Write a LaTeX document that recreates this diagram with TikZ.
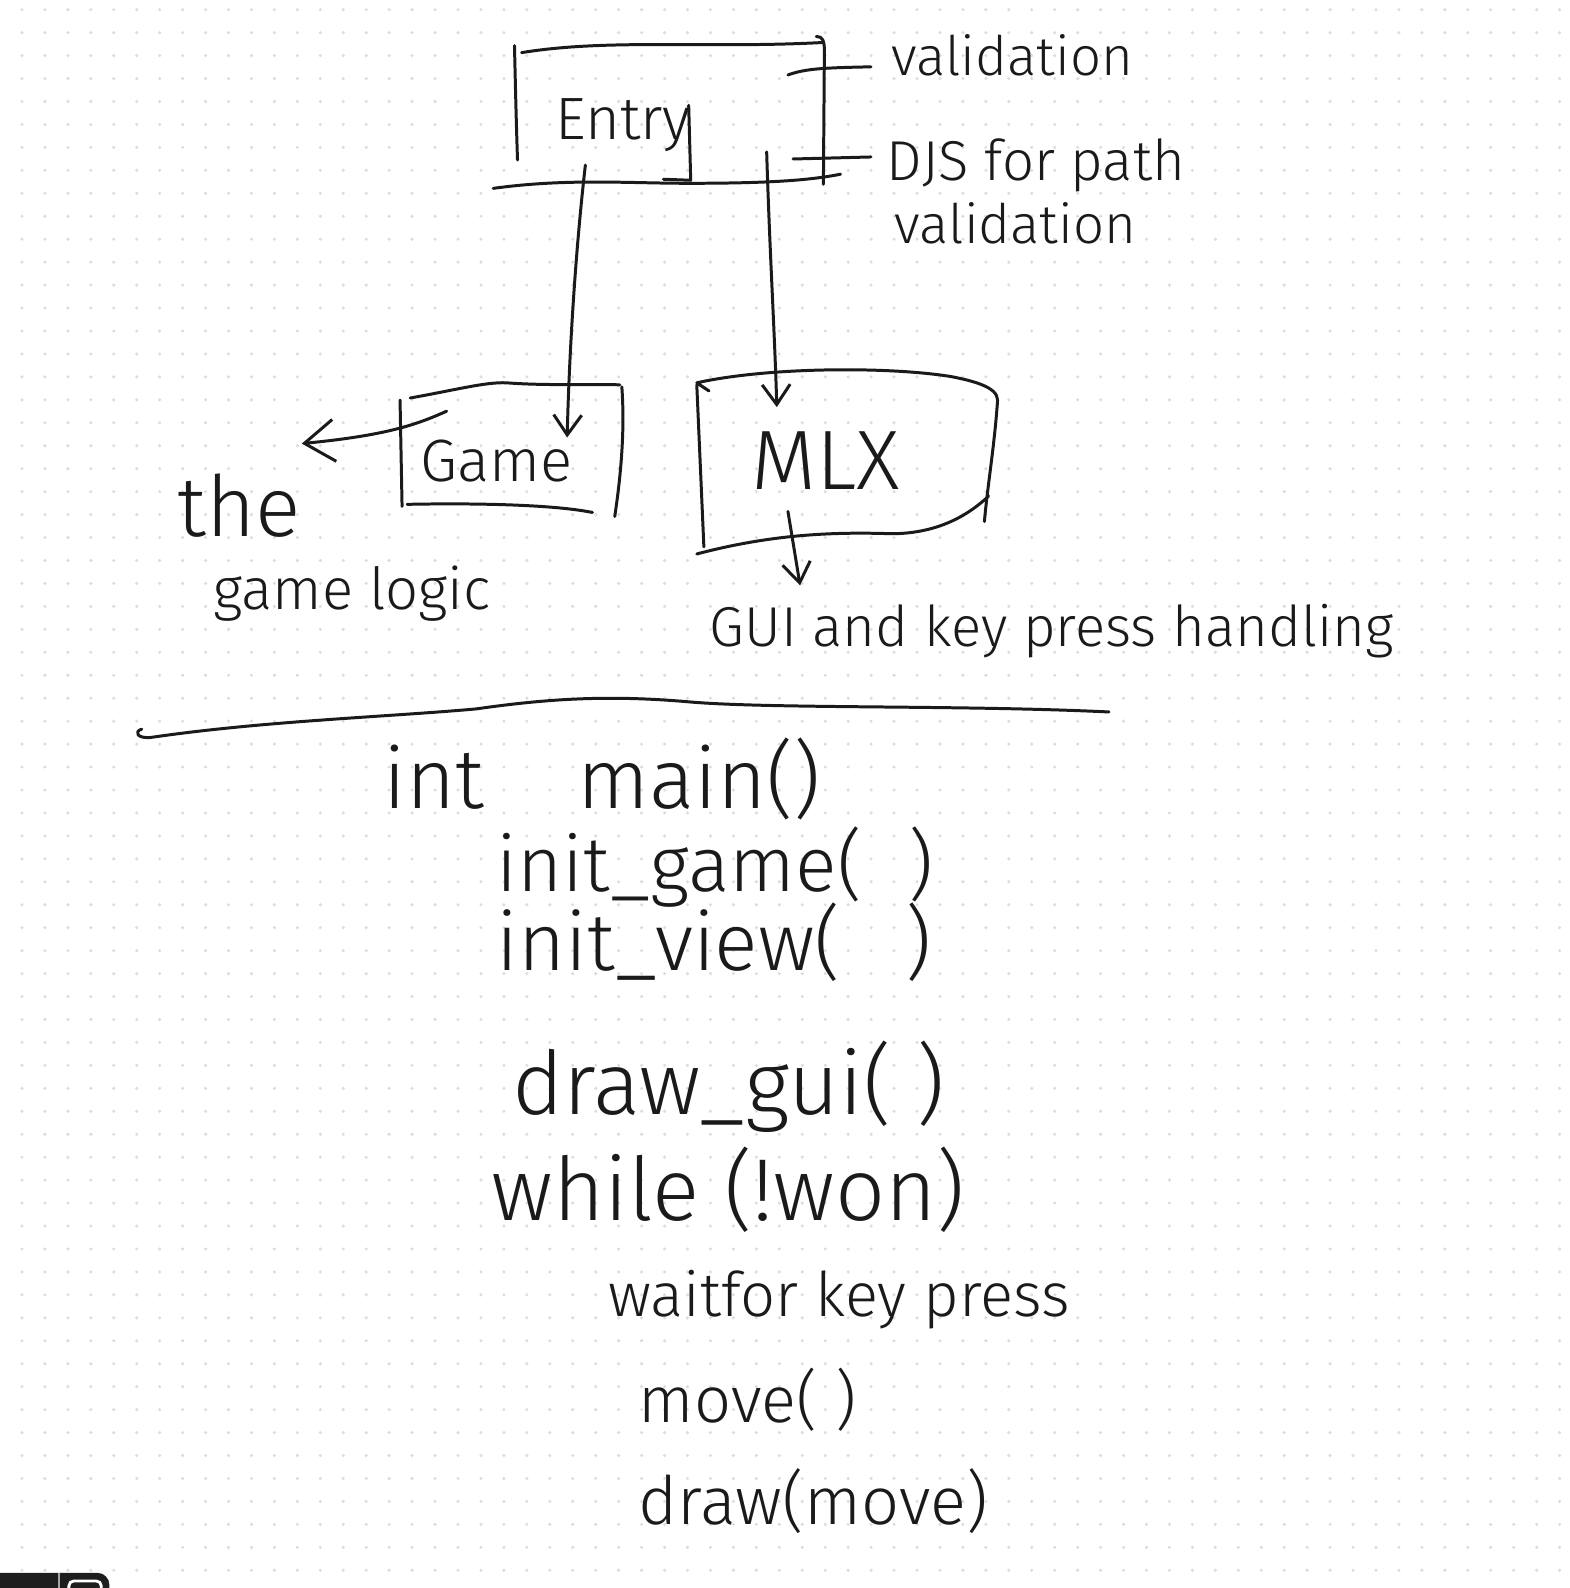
\documentclass[tikz,border=0pt]{standalone}
\usepackage{fontspec}
\setmainfont{Fira Sans Light}
\usetikzlibrary{arrows.meta,positioning}
\definecolor{dotgray}{HTML}{DCDCDC}
\definecolor{ink}{HTML}{1A1A1A}
\definecolor{barblack}{HTML}{1E1E1E}

\begin{document}
\begin{tikzpicture}[
    x=0.10129mm, y=-0.10129mm,
    pen/.style={draw=ink, line width=0.85pt, line cap=round, line join=round},
    arrow/.style={pen, -{Straight Barb[length=2mm, width=2.8mm]}},
    bigarrow/.style={pen, -{Straight Barb[length=3mm, width=4.2mm]}},
    boxtext/.style={text=ink, inner sep=0, font=\fontsize{#1}{#1}\selectfont},
    notetext/.style={text=ink, inner sep=0, anchor=base west, font=\fontsize{#1}{#1}\selectfont},
    codetext/.style={text=ink, inner sep=0, anchor=base west, font=\fontsize{#1}{#1}\selectfont}
]

% Paper and dot grid
\fill[white] (0,0) rectangle (1550,1568);
\useasboundingbox (0,0) rectangle (1550,1568);
\foreach \i in {0,...,67}{
  \foreach \j in {0,...,68}{
    \fill[dotgray] ({21.7+22.66*\i},{9.6+22.66*\j}) circle (0.17mm);
  }
}

% Toolbar corner
\begin{scope}
  \clip (0,0) rectangle (1550,1568);
  \fill[barblack, rounded corners=1.2mm] (-20,1553) rectangle (108,1600);
  \draw[gray!70, line width=0.5pt] (58,1553) -- (58,1568);
  \draw[white, line width=0.8pt, rounded corners=0.5mm] (68,1561) rectangle (100,1580);
\end{scope}

% Entry box
\draw[pen] (508,45) .. controls (509,90) and (510,130) .. (511,158);
\draw[pen] (515,52) .. controls (600,38) and (700,48) .. (812,42);
\draw[pen] (806,36) .. controls (812,36) and (814,40) .. (814,50) -- (813,182);
\draw[pen] (778,74) .. controls (795,68) and (810,67) .. (860,66);
\draw[pen] (783,157) -- (860,155);
\draw[pen] (680,104) -- (682,178) -- (655,177);
\draw[pen] (487,186) .. controls (560,176) and (620,181) .. (680,181) .. controls (760,181) and (800,178) .. (830,172);
\node[boxtext=17] (entry) at (615,124) {Entry};

% Notes on the right
\node[notetext=15.5] (valid) at (880,75) {validation};
\node[notetext=16] (djs) at (875,178) {DJS for path};
\node[notetext=15.5] (pathvalid) at (883,240) {validation};

% Game box
\draw[pen] (405,393) .. controls (450,385) and (480,377) .. (500,378) .. controls (540,381) and (580,379) .. (612,380);
\draw[pen] (614,382) .. controls (616,410) and (616,450) .. (607,510);
\draw[pen] (395,395) -- (397,500);
\draw[pen] (402,498) .. controls (450,497) and (540,497) .. (585,506);
\node[boxtext=17] (game) at (490,455) {Game};

% MLX box
\draw[pen] (700,386) -- (688,378) .. controls (760,362) and (880,362) .. (940,372) .. controls (960,376) and (985,382) .. (985,395) .. controls (982,440) and (975,480) .. (972,515);
\draw[pen] (688,380) -- (695,540);
\draw[pen] (688,547) .. controls (760,528) and (820,525) .. (880,527) .. controls (930,527) and (960,505) .. (976,490);
\node[boxtext=24] (mlx) at (815,455) {MLX};

% Labels
\node[notetext=24] (the) at (175,530) {the};
\node[notetext=16.5] (logic) at (210,602) {game logic};
\node[notetext=16] (gui) at (700,638) {GUI and key press handling};

% Arrows
\coordinate (entry-game) at (578,163);
\coordinate (game-in) at (560,432);
\coordinate (entry-mlx) at (757,150);
\coordinate (mlx-in) at (767,402);
\coordinate (game-out) at (441,406);
\coordinate (logic-in) at (298,438);
\coordinate (mlx-out) at (778,505);
\coordinate (gui-in) at (790,578);
\draw[arrow] (entry-game) .. controls (568,250) and (562,350) .. (game-in);
\draw[arrow] (entry-mlx) .. controls (760,250) and (765,330) .. (mlx-in);
\draw[bigarrow] (game-out) .. controls (410,420) and (380,430) .. (logic-in);
\draw[arrow] (mlx-out) -- (gui-in);

% Separator
\draw[pen] (140,720) .. controls (132,722) and (135,730) .. (150,728) .. controls (260,712) and (380,708) .. (470,700) .. controls (540,690) and (600,686) .. (680,693) .. controls (760,700) and (950,696) .. (1095,703);

% Pseudo code
\node[codetext=24] (mainfn) at (378,798) {int\hspace{1.1em}main()};
\node[codetext=22] (initgame) at (490,880) {init\_game(\hspace{0.6em})};
\node[codetext=23] (initview) at (490,958) {init\_view(\hspace{0.8em})};
\node[codetext=25] (drawgui) at (505,1100) {draw\_gui( )};
\node[codetext=25] (loop) at (485,1205) {while (!won)};
\node[codetext=17.5] (waitkey) at (600,1300) {waitfor key press};
\node[codetext=18.5] (movefn) at (630,1405) {move( )};
\node[codetext=19] (drawmove) at (630,1505) {draw(move)};

\end{tikzpicture}
\end{document}
